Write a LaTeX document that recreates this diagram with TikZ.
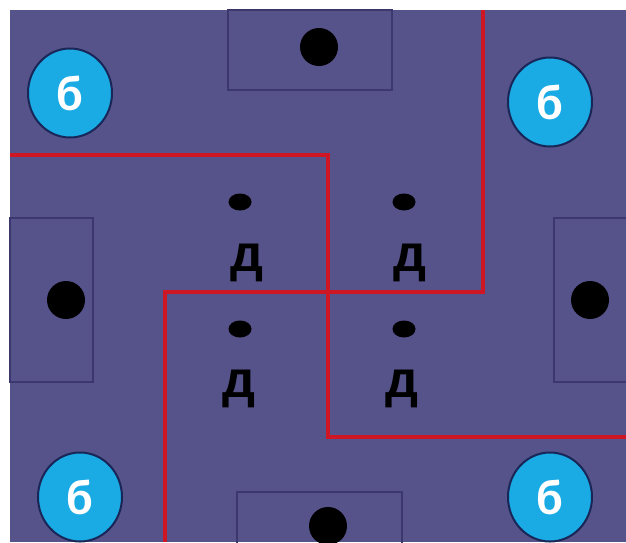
\documentclass[tikz,border=0pt]{standalone}
\usepackage{fontspec}
\setmainfont{Carlito}
\newfontfamily\heavyfont{Liberation Sans}
\usetikzlibrary{positioning, shapes.geometric}
\definecolor{pitchPurple}{RGB}{86,82,138}
\definecolor{goalLine}{RGB}{60,56,110}
\definecolor{zoneRed}{RGB}{206,22,36}
\definecolor{ballBlue}{RGB}{26,170,228}
\definecolor{ballEdge}{RGB}{24,38,88}

\begin{document}
\begin{tikzpicture}[x=1pt, y=-1pt,
    goal/.style={draw=goalLine, line width=1.5pt, inner sep=0pt},
    spot/.style={circle, fill=black, minimum size=38pt, inner sep=0pt},
    ball/.style={ellipse, draw=ballEdge, line width=2pt, fill=ballBlue,
      minimum width=84pt, minimum height=89pt, inner sep=0pt, text=white,
      font=\fontsize{50}{50}\selectfont\bfseries},
    player/.style={ellipse, fill=black, minimum width=23pt, minimum height=17pt, inner sep=0pt},
    tag/.style={text=black, inner sep=0pt, font=\heavyfont\fontsize{52}{52}\selectfont\bfseries},
    zone/.style={draw=zoneRed, line width=3.5pt}]
    \useasboundingbox (0,0) rectangle (626,542);
    \fill[pitchPurple] (10,10) rectangle (626,542);
    % goals
    \node[goal, minimum width=164pt, minimum height=80pt] (gTop) at (310,50) {};
    \node[goal, minimum width=165pt, minimum height=60pt] (gBottom) at (319.5,522) {};
    \node[goal, minimum width=83pt, minimum height=164pt] (gLeft) at (51.5,300) {};
    \node[goal, minimum width=84pt, minimum height=164pt] (gRight) at (596,300) {};
    \node[spot] (sTop) at (319,47) {};
    \node[spot] (sBottom) at (328,526) {};
    \node[spot] (sLeft) at (66,300) {};
    \node[spot] (sRight) at (590,300) {};
    % zones
    \draw[zone] (10,155) -- (328,155) -- (328,437) -- (626,437);
    \draw[zone] (483,10) -- (483,292) -- (165,292) -- (165,542);
    % balls
    \foreach \n/\x/\y in {bA/70/93, bB/550/102, bC/80/497, bD/550/497}
      \node[ball] (\n) at (\x,\y) {б};
    % players
    \foreach \n/\x/\y/\tx/\ty in {pA/240/202/247/263, pB/404/202/410/263,
                                 pC/240/329/239/389, pD/404/329/402/389}
      {\node[player] (\n) at (\x,\y) {};
       \node[tag] (t\n) at (\tx,\ty) {д};}
\end{tikzpicture}
\end{document}
